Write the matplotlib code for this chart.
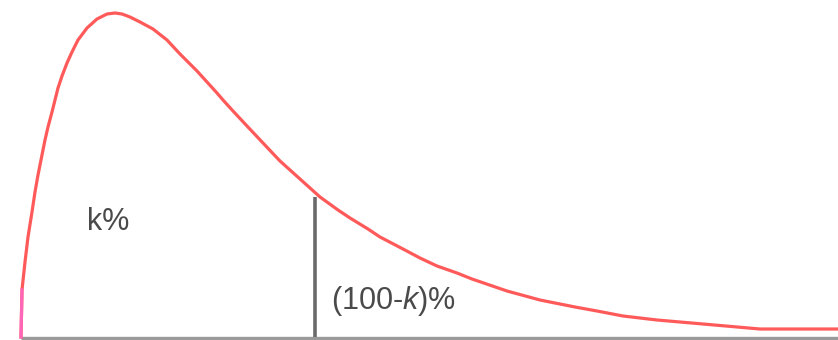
import matplotlib
matplotlib.use("Agg")
import matplotlib.pyplot as plt

plt.rcParams["mathtext.fontset"] = "custom"
plt.rcParams["mathtext.rm"] = "Liberation Sans"
plt.rcParams["mathtext.it"] = "Liberation Sans:italic"

# Skewed density curve (horizontal position, height above the baseline)
curve_x = [21, 22, 25, 28, 32, 35, 38, 42, 45, 48, 52, 55, 58, 62, 67, 72, 78, 87, 97,
           107, 115, 122, 130, 140, 153, 167, 180, 187, 197, 207, 217, 223, 233, 247,
           263, 280, 310, 320, 338, 350, 368, 380, 403, 420, 437, 457, 472, 507, 540,
           560, 575, 597, 623, 657, 703, 760, 838]
curve_h = [0, 47, 75, 100, 125, 145, 162, 182, 197, 210, 225, 237, 249, 261, 274, 285,
           297, 309, 318, 323, 324, 323, 320, 315, 308, 297, 283, 276, 266, 255, 244,
           237, 226, 211, 194, 176, 149, 140, 127, 119, 108, 100, 88, 79, 71, 64, 58,
           46, 37, 33, 30, 26, 21, 17, 13, 8, 8]

# Cut-off separating the two shaded regions
cutoff_x = 315
cutoff_h = 140
baseline_start = 21
baseline_end = 838

labels = ["k%", r"(100-$\mathit{k}$)%"]

fig = plt.figure(figsize=(8.38, 3.4), dpi=100)
ax = fig.add_axes([0, 0, 1, 1])
ax.set_xlim(0, 838)
ax.set_ylim(-3, 337)
ax.axis("off")

ax.plot([baseline_start, baseline_end], [-0.5, -0.5], color="#9a9a9a", lw=2.4,
        solid_capstyle="butt", zorder=1)
ax.plot([cutoff_x, cutoff_x], [0, cutoff_h], color="#6a6a6a", lw=2.6,
        solid_capstyle="butt", zorder=2)
ax.plot(curve_x, curve_h, color="#ff5a5a", lw=2.3, solid_joinstyle="round", zorder=3)
ax.plot(curve_x[:2], curve_h[:2], color="#ff66b8", lw=2.3, zorder=4)

ax.text(87, 337 - 222, labels[0], fontsize=22, color="#4a4a4a",
        family="Liberation Sans", va="center", ha="left")
ax.text(331, 337 - 301, labels[1], fontsize=22, color="#4a4a4a",
        family="Liberation Sans", va="center", ha="left")

fig.savefig("out.png", dpi=100)
